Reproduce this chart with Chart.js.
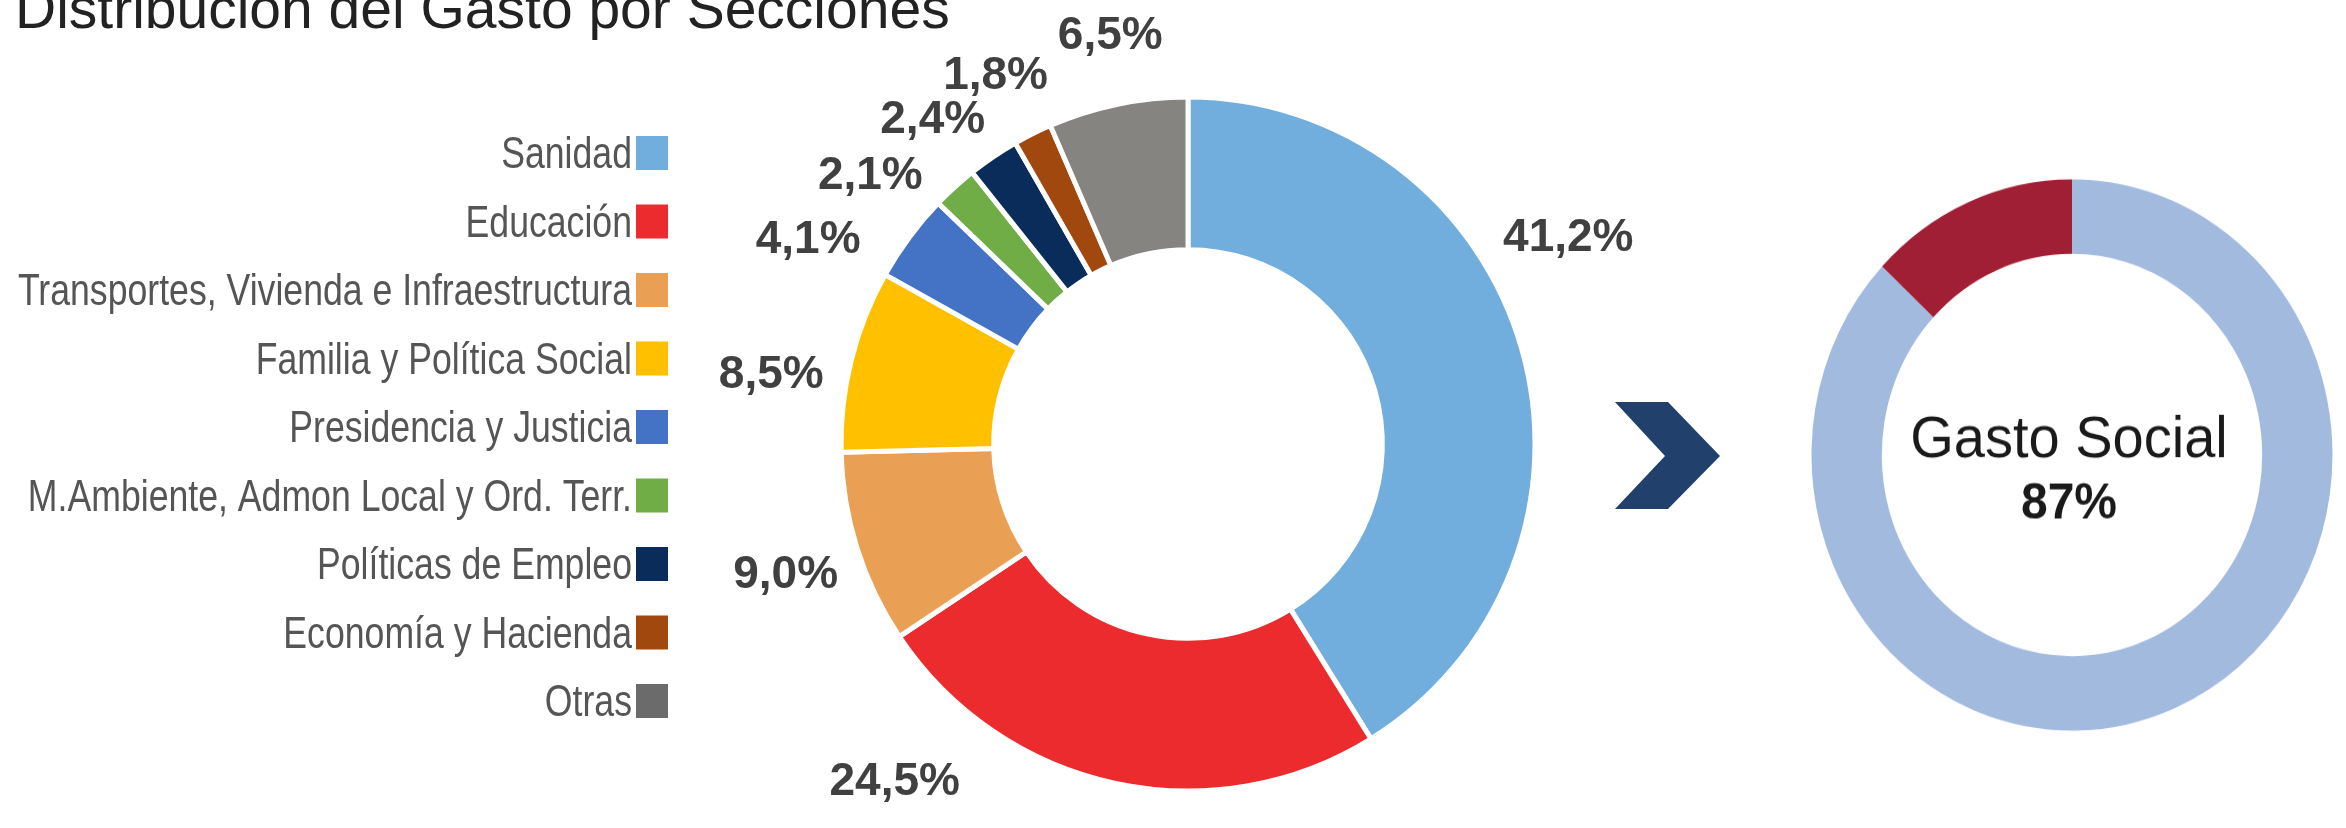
<!DOCTYPE html>
<html lang="es">
<head>
<meta charset="utf-8">
<title>Distribución del Gasto por Secciones</title>
<script src="https://cdn.jsdelivr.net/npm/chart.js@4.4.1/dist/chart.umd.min.js"></script>
<style>
  html, body { margin: 0; padding: 0; background: #fff; overflow: hidden; }
  body { width: 2346px; height: 828px; position: relative; font-family: "Liberation Sans", Arial, sans-serif; }
  #title { position: absolute; left: 15px; top: -23px; font-size: 57px; line-height: 62px; color: #222; white-space: nowrap; }
  #mainWrap { position: absolute; left: 0; top: 0; width: 1700px; height: 828px; }
  #socialWrap { position: absolute; left: 1792px; top: 175px; width: 560px; height: 560px; transform: scaleY(1.058); transform-origin: 50% 50%; }
  #arrow { position: absolute; left: 1615px; top: 402px; }
</style>
</head>
<body>
<div id="title">Distribución del Gasto por Secciones</div>
<div id="mainWrap"><canvas id="mainChart"></canvas></div>
<svg id="arrow" width="106" height="108" viewBox="0 0 106 108">
  <polygon points="0,0 53,0 105,54 53,107 0,107 50,54" fill="#21406b"/>
</svg>
<div id="socialWrap"><canvas id="socialChart"></canvas></div>

<script>
const sections = [
  "Sanidad",
  "Educación",
  "Transportes, Vivienda e Infraestructura",
  "Familia y Política Social",
  "Presidencia y Justicia",
  "M.Ambiente, Admon Local y Ord. Terr.",
  "Políticas de Empleo",
  "Economía y Hacienda",
  "Otras",
];
const shares = [41.2, 24.5, 9.0, 8.5, 4.1, 2.1, 2.4, 1.8, 6.5];
const sectionColors = [
  "#72aedd", "#ec2b2f", "#eaa054", "#ffc000", "#4472c4",
  "#70ad47", "#0a2c5a", "#a1480f", "#858481",
];
// the legend swatch for "Otras" reads darker than its slice
const swatchColors = sectionColors.slice(0, -1).concat(["#6b6b6b"]);

const socialTitle = "Gasto Social";
const socialShares = [87, 13];
const socialColors = ["#a3badf", "#a01f34"];

// label nudges: [degrees off the slice middle, px outside the ring]
const labelPlacement = [
  [-12.9, 87], [29, 98], [0, 75], [-4.1, 76], [-7.9, 86],
  [-7.2, 71], [-3.8, 68], [-0.8, 71], [1, 72],
];

// legend uses a narrow face when one is installed
const probe = document.createElement("canvas").getContext("2d");
const widthIn = (family) => {
  probe.font = "44px " + family;
  return probe.measureText(sections[2]).width;
};
const narrowOk = widthIn('"Liberation Sans Narrow", monospace') !== widthIn("monospace");
const legendFont = narrowOk ? '44px "Liberation Sans Narrow"' : '44px "Liberation Sans", Arial';
const legendSqueeze = narrowOk ? 1 : 0.81;

const sideLegend = {
  id: "sideLegend",
  afterDraw(chart) {
    const ctx = chart.ctx;
    ctx.save();
    ctx.font = legendFont;
    ctx.textAlign = "right";
    ctx.textBaseline = "alphabetic";
    chart.data.labels.forEach((label, i) => {
      const rowY = 153 + i * 68.5;
      ctx.fillStyle = swatchColors[i];
      ctx.fillRect(636, rowY - 17, 32, 34);
      ctx.save();
      ctx.translate(632, rowY + 15);
      ctx.scale(legendSqueeze, 1);
      ctx.fillStyle = "#555555";
      ctx.fillText(label, 0, 0);
      ctx.restore();
    });
    ctx.restore();
  },
};

const pctLabels = {
  id: "pctLabels",
  afterDatasetsDraw(chart) {
    const ctx = chart.ctx;
    const meta = chart.getDatasetMeta(0);
    ctx.save();
    ctx.font = "bold 46px 'Liberation Sans', Arial, sans-serif";
    ctx.fillStyle = "#404040";
    ctx.textAlign = "center";
    ctx.textBaseline = "alphabetic";
    meta.data.forEach((arc, i) => {
      const { x, y, startAngle, endAngle, outerRadius } = arc.getProps(
        ["x", "y", "startAngle", "endAngle", "outerRadius"], true);
      const [shift, gap] = labelPlacement[i];
      const a = (startAngle + endAngle) / 2 + (shift * Math.PI) / 180;
      const r = outerRadius + gap;
      const text = shares[i].toFixed(1).replace(".", ",") + "%";
      ctx.fillText(text, x + r * Math.cos(a), y + r * Math.sin(a) + 16.5);
    });
    ctx.restore();
  },
};

const centerText = {
  id: "centerText",
  afterDraw(chart) {
    const ctx = chart.ctx;
    const { x, y } = chart.getDatasetMeta(0).data[0];
    ctx.save();
    ctx.fillStyle = "#1a1a1a";
    ctx.textAlign = "center";
    ctx.textBaseline = "alphabetic";
    ctx.font = "56px 'Liberation Sans', Arial, sans-serif";
    ctx.fillText(socialTitle, x - 3, y + 2);
    ctx.font = "bold 48px 'Liberation Sans', Arial, sans-serif";
    ctx.fillText(socialShares[0] + "%", x - 3, y + 60);
    ctx.restore();
  },
};

new Chart(document.getElementById("mainChart"), {
  type: "doughnut",
  data: {
    labels: sections,
    datasets: [
      {
        data: shares,
        backgroundColor: sectionColors,
        borderColor: "#ffffff",
        borderWidth: 5,
      },
    ],
  },
  options: {
    responsive: true,
    maintainAspectRatio: false,
    animation: false,
    events: [],
    radius: 347,
    cutout: "56%",
    layout: { padding: { left: 676, top: 60, right: 0, bottom: 0 } },
    plugins: {
      legend: { display: false },
      tooltip: { enabled: false },
    },
  },
  plugins: [sideLegend, pctLabels],
});

new Chart(document.getElementById("socialChart"), {
  type: "doughnut",
  data: {
    labels: [socialTitle, "Resto"],
    datasets: [
      {
        data: socialShares,
        backgroundColor: socialColors,
        borderWidth: 0,
      },
    ],
  },
  options: {
    responsive: true,
    maintainAspectRatio: false,
    animation: false,
    events: [],
    radius: 260.5,
    cutout: "73%",
    plugins: {
      legend: { display: false },
      tooltip: { enabled: false },
    },
  },
  plugins: [centerText],
});
</script>
</body>
</html>
